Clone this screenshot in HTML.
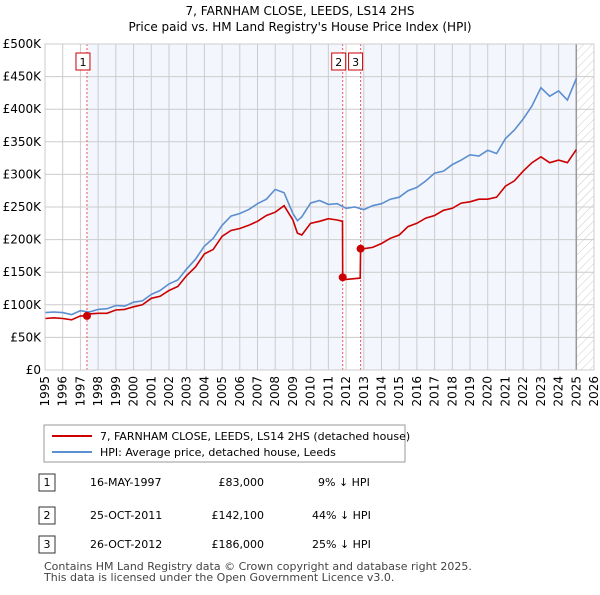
<!DOCTYPE html>
<html><head><meta charset="utf-8"><style>
body{margin:0;background:#fff;font-family:"Liberation Sans","DejaVu Sans",sans-serif;}
svg text{font-family:"DejaVu Sans","Liberation Sans",sans-serif;}
</style></head><body>
<svg id="c" width="600" height="590" viewBox="0 0 600 590" xmlns="http://www.w3.org/2000/svg">
<defs><pattern id="hatch" width="6" height="6" patternUnits="userSpaceOnUse" patternTransform="rotate(45)"><line x1="0" y1="0" x2="0" y2="6" stroke="#ccc" stroke-width="1"/></pattern></defs>
<text x="300" y="15" text-anchor="middle" font-size="12">7, FARNHAM CLOSE, LEEDS, LS14 2HS</text>
<text x="300" y="31" text-anchor="middle" font-size="12">Price paid vs. HM Land Registry's House Price Index (HPI)</text>
<g id="plot"></g>
<rect x="44" y="425" width="361" height="37" fill="#fff" stroke="#999"/>
<line x1="52" y1="436" x2="92" y2="436" stroke="#cc0000" stroke-width="2"/>
<text x="100" y="440" font-size="11">7, FARNHAM CLOSE, LEEDS, LS14 2HS (detached house)</text>
<line x1="52" y1="452" x2="92" y2="452" stroke="#5b8fd0" stroke-width="2"/>
<text x="100" y="456" font-size="11">HPI: Average price, detached house, Leeds</text>
<g font-size="11">
<rect x="39" y="474" width="16" height="17" fill="#fff" stroke="#333"/><text x="47" y="486" text-anchor="middle">1</text>
<text x="90" y="486">16-MAY-1997</text><text x="264" y="486" text-anchor="end">£83,000</text><text x="318" y="486">9% ↓ HPI</text>
<rect x="39" y="507" width="16" height="17" fill="#fff" stroke="#333"/><text x="47" y="519" text-anchor="middle">2</text>
<text x="90" y="519">25-OCT-2011</text><text x="264" y="519" text-anchor="end">£142,100</text><text x="312" y="519">44% ↓ HPI</text>
<rect x="39" y="536" width="16" height="17" fill="#fff" stroke="#333"/><text x="47" y="548" text-anchor="middle">3</text>
<text x="90" y="548">26-OCT-2012</text><text x="264" y="548" text-anchor="end">£186,000</text><text x="312" y="548">25% ↓ HPI</text>
</g>
<text x="44" y="570" font-size="11" fill="#444">Contains HM Land Registry data © Crown copyright and database right 2025.</text>
<text x="44" y="581" font-size="11" fill="#444">This data is licensed under the Open Government Licence v3.0.</text>
</svg>
<script>
const hpiT=[1995,1995.5,1996,1996.5,1997,1997.5,1998,1998.5,1999,1999.5,2000,2000.5,2001,2001.5,2002,2002.5,2003,2003.5,2004,2004.5,2005,2005.5,2006,2006.5,2007,2007.5,2008,2008.5,2009,2009.25,2009.5,2010,2010.5,2011,2011.5,2012,2012.5,2013,2013.5,2014,2014.5,2015,2015.5,2016,2016.5,2017,2017.5,2018,2018.5,2019,2019.5,2020,2020.5,2021,2021.5,2022,2022.5,2023,2023.5,2024,2024.5,2025];
const hpiV=[88,89,88,85,91,89,93,94,99,98,104,106,116,122,132,138,155,170,190,202,222,236,240,246,255,262,277,272,240,229,235,256,260,254,255,248,250,246,252,255,262,265,275,280,290,302,305,315,322,330,328,337,332,355,368,385,405,433,420,428,414,447];
const priceT=[1995,1995.5,1996,1996.5,1997,1997.37,1997.5,1998,1998.5,1999,1999.5,2000,2000.5,2001,2001.5,2002,2002.5,2003,2003.5,2004,2004.5,2005,2005.5,2006,2006.5,2007,2007.5,2008,2008.5,2009,2009.25,2009.5,2010,2010.5,2011,2011.5,2011.8,2011.81,2012,2012.8,2012.82,2013,2013.5,2014,2014.5,2015,2015.5,2016,2016.5,2017,2017.5,2018,2018.5,2019,2019.5,2020,2020.5,2021,2021.5,2022,2022.5,2023,2023.5,2024,2024.5,2025];
const priceV=[79,80,79,77,83,83,86,87,87,92,93,97,100,110,113,122,128,145,158,178,185,205,214,217,222,228,237,242,252,230,210,207,225,228,232,230,228,142.1,139,141,186,186,188,194,202,207,220,225,233,237,245,248,256,258,262,262,265,282,290,305,318,327,318,322,318,338];
const saleT=[1997.37,2011.81,2012.82];
const saleV=[83,142.1,186];
const saleLabels=["1","2","3"];
const yTicks=[0,50,100,150,200,250,300,350,400,450,500];
const yTickLabels=["£0","£50K","£100K","£150K","£200K","£250K","£300K","£350K","£400K","£450K","£500K"];
const xYears=[1995,1996,1997,1998,1999,2000,2001,2002,2003,2004,2005,2006,2007,2008,2009,2010,2011,2012,2013,2014,2015,2016,2017,2018,2019,2020,2021,2022,2023,2024,2025,2026];
const dataEnd=2025.0;
const X0=45,X1=594,Y0=370,Y1=44;
const x=t=>X0+(t-1995)/(2026-1995)*(X1-X0);
const y=v=>Y0-v/500*(Y0-Y1);
const NS="http://www.w3.org/2000/svg";
const g=document.getElementById('plot');
function el(tag,attrs,parent){const e=document.createElementNS(NS,tag);for(const k in attrs)e.setAttribute(k,attrs[k]);(parent||g).appendChild(e);return e;}
let r=el('rect',{x:x(saleT[0]),y:Y1,width:x(saleT[1])-x(saleT[0]),height:Y0-Y1,fill:'#f3f6fd'});


r=el('rect',{x:x(saleT[2]),y:Y1,width:x(dataEnd)-x(saleT[2]),height:Y0-Y1,fill:'#f3f6fd'});


r=el('rect',{x:x(dataEnd),y:Y1,width:X1-x(dataEnd),height:Y0-Y1,fill:'url(#hatch)'});


yTicks.forEach((v,i)=>{
 const l=el('line',{x1:X0,x2:X1,y1:y(v),y2:y(v),stroke:'#ccc'});
 
 
 const t=el('text',{x:X0-4,y:y(v)+4,'text-anchor':'end','font-size':'12'});
 t.textContent=yTickLabels[i];
 
 
});
xYears.forEach(yr=>{
 const l=el('line',{x1:x(yr),x2:x(yr),y1:Y1,y2:Y0,stroke:'#ccc'});
 
 
 const t=el('text',{x:0,y:0,'text-anchor':'end','font-size':'12',transform:`translate(${x(yr)+4},${Y0+6}) rotate(-90)`});
 t.textContent=yr;
 
 
});
let b=el('line',{x1:x(dataEnd),x2:x(dataEnd),y1:Y1,y2:Y0,stroke:'#999','stroke-width':1.5});


const boxOff=[-11,-11,-12];
saleT.forEach((t,i)=>{
 const l=el('line',{x1:x(t),x2:x(t),y1:Y1,y2:Y0,stroke:'#e55','stroke-dasharray':'2,2'});
 
 
 const bx=el('rect',{x:x(t)+boxOff[i],y:53,width:14,height:17,fill:'#fff',stroke:'#c00'});
 
 
 const tx=el('text',{x:x(t)+boxOff[i]+7,y:66,'text-anchor':'middle','font-size':'11'});
 tx.textContent=saleLabels[i];
 
 
});
let p=el('path',{d:hpiT.map((t,i)=>(i?'L':'M')+x(t).toFixed(1)+','+y(hpiV[i]).toFixed(1)).join(''),fill:'none',stroke:'#5b8fd0','stroke-width':1.6});


p=el('path',{d:priceT.map((t,i)=>(i?'L':'M')+x(t).toFixed(1)+','+y(priceV[i]).toFixed(1)).join(''),fill:'none',stroke:'#cc0000','stroke-width':1.6});


saleT.forEach((t,i)=>{
 const c=el('circle',{cx:x(t),cy:y(saleV[i]),r:4,fill:'#cc0000'});
 
 
});
let fr=el('rect',{x:X0,y:Y1,width:X1-X0,height:Y0-Y1,fill:'none',stroke:'#ccc'});


</script>
</body></html>
